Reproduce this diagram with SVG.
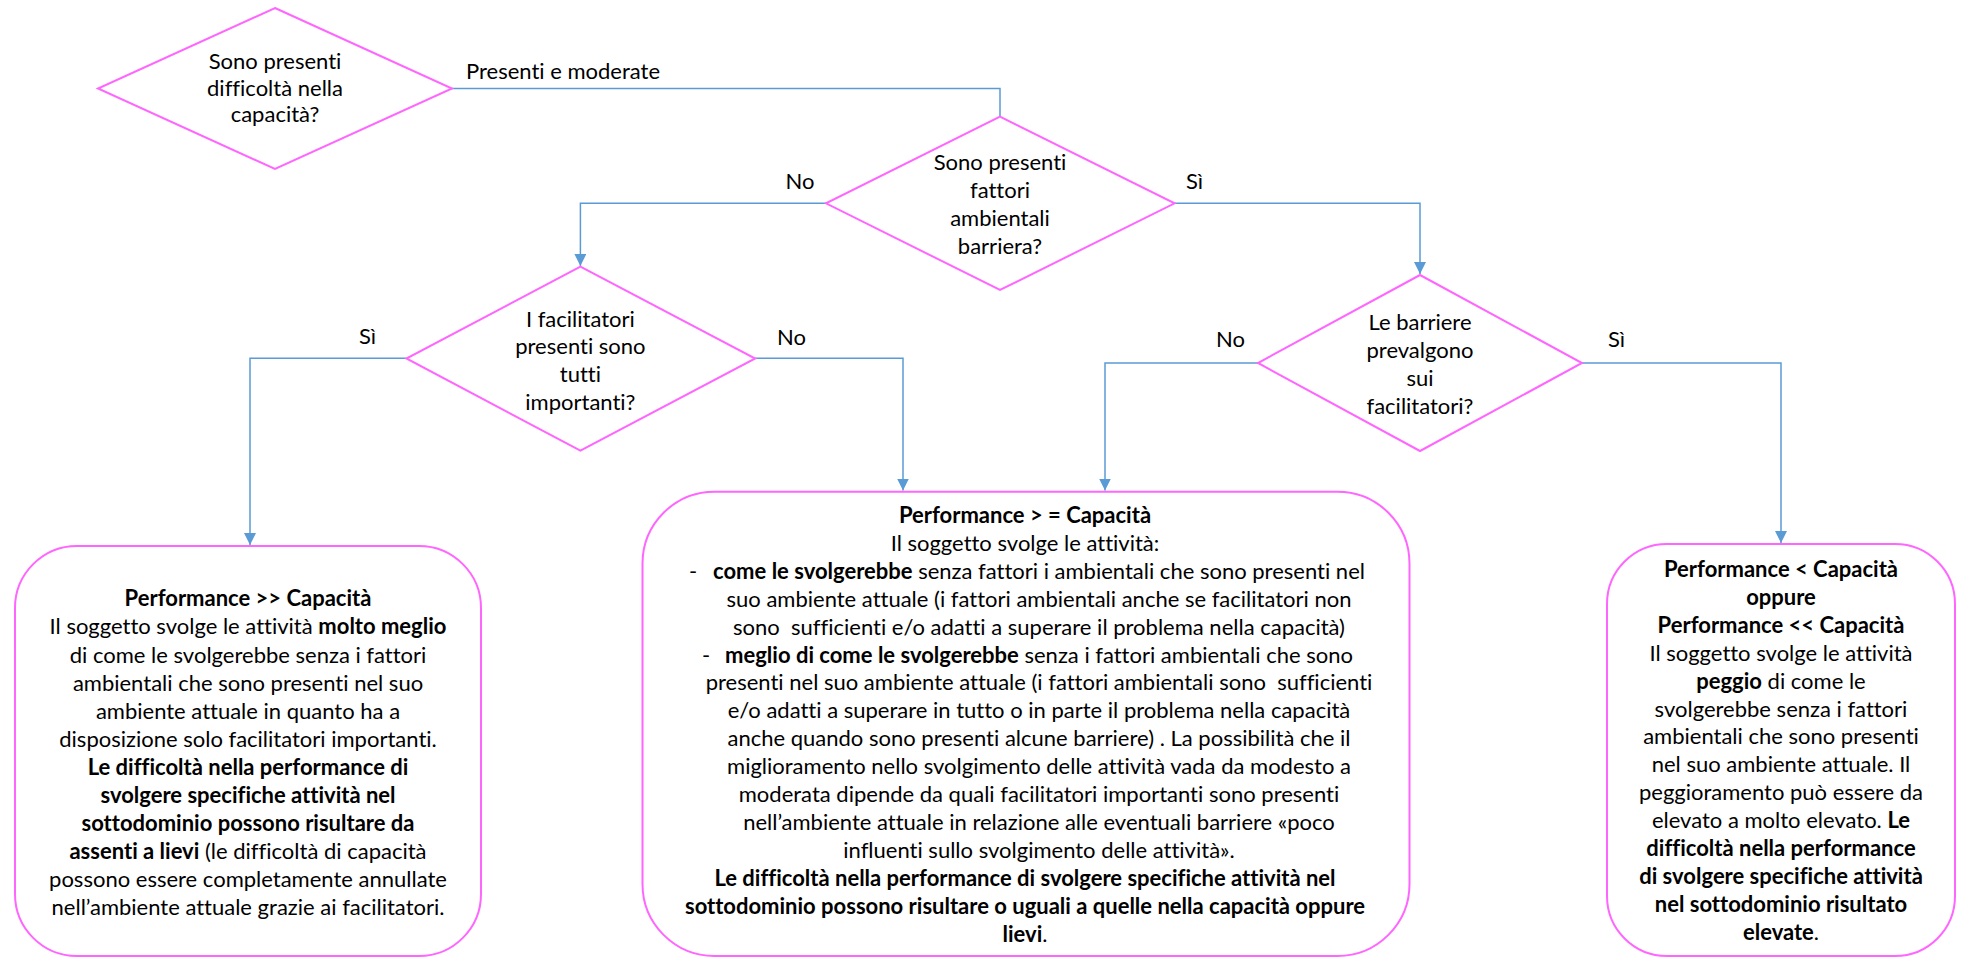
<svg xmlns="http://www.w3.org/2000/svg" width="1964" height="957" viewBox="0 0 1964 957">
<style>
.t { font-family: Lato, 'Liberation Sans', sans-serif; font-size: 22px; fill: #000; font-variant-ligatures: none; font-feature-settings: "liga" 0, "clig" 0; }
.m { text-anchor: middle; }
.b { font-weight: bold; }
.shape { fill: #fff; stroke: #FF66FF; stroke-width: 2; }
.conn { fill: none; stroke: #5B9BD5; stroke-width: 1.5; }
</style>
<defs>
<marker id="arr" markerUnits="userSpaceOnUse" markerWidth="13" markerHeight="13" refX="12" refY="6" orient="auto">
<path d="M0,0 L12,6 L0,12 z" fill="#5B9BD5"/>
</marker>
</defs>
<rect width="1964" height="957" fill="#fff"/>
<g id="connectors">
<polyline class="conn" points="452,88.5 1000,88.5 1000,116.7"/>
<polyline class="conn" points="826,203.3 580.4,203.3 580.4,266" marker-end="url(#arr)"/>
<polyline class="conn" points="1174.6,203.3 1420,203.3 1420,274" marker-end="url(#arr)"/>
<polyline class="conn" points="406.4,358.3 250,358.3 250,545" marker-end="url(#arr)"/>
<polyline class="conn" points="755.2,358.3 903,358.3 903,490.5" marker-end="url(#arr)"/>
<polyline class="conn" points="1258,363 1105,363 1105,490.5" marker-end="url(#arr)"/>
<polyline class="conn" points="1582,363 1781,363 1781,543" marker-end="url(#arr)"/>
<text class="t" x="466" y="79">Presenti e moderate</text>
<text class="t m" x="800" y="189">No</text>
<text class="t" x="1186" y="189">Sì</text>
<text class="t" x="359" y="344">Sì</text>
<text class="t" x="777" y="345">No</text>
<text class="t" x="1216" y="347">No</text>
<text class="t" x="1608" y="347">Sì</text>
</g>
<g id="d1">
<polygon class="shape" points="275,8 452,88.5 275,169 98,88.5"/>
<text class="t m" x="275" y="69">Sono presenti</text>
<text class="t m" x="275" y="95.5">difficoltà nella</text>
<text class="t m" x="275" y="122">capacità?</text>
</g>
<g id="d2">
<polygon class="shape" points="1000,116.7 1174.6,203.3 1000,290 826,203.3"/>
<text class="t m" x="1000" y="170">Sono presenti</text>
<text class="t m" x="1000" y="197.5">fattori</text>
<text class="t m" x="1000" y="225.5">ambientali</text>
<text class="t m" x="1000" y="253.5">barriera?</text>
</g>
<g id="d3">
<polygon class="shape" points="580.4,266.7 755.2,358.5 580.4,450.7 406.4,358.5"/>
<text class="t m" x="580.4" y="327">I facilitatori</text>
<text class="t m" x="580.4" y="354">presenti sono</text>
<text class="t m" x="580.4" y="382">tutti</text>
<text class="t m" x="580.4" y="410">importanti?</text>
</g>
<g id="d4">
<polygon class="shape" points="1420,275 1582,363 1420,451 1258,363"/>
<text class="t m" x="1420" y="330">Le barriere</text>
<text class="t m" x="1420" y="358">prevalgono</text>
<text class="t m" x="1420" y="385.5">sui</text>
<text class="t m" x="1420" y="414">facilitatori?</text>
</g>
<g id="box1">
<rect class="shape" x="15" y="546" width="466" height="410" rx="62" ry="62"/>
<text class="t m b" x="248" y="606.3">Performance &gt;&gt; Capacità</text>
<text class="t m" x="248" y="634.4">Il soggetto svolge le attività <tspan class="b">molto meglio</tspan></text>
<text class="t m" x="248" y="662.5">di come le svolgerebbe senza i fattori</text>
<text class="t m" x="248" y="690.6">ambientali che sono presenti nel suo</text>
<text class="t m" x="248" y="718.7">ambiente attuale in quanto ha a</text>
<text class="t m" x="248" y="746.8">disposizione solo facilitatori importanti.</text>
<text class="t m b" x="248" y="774.9">Le difficoltà nella performance di</text>
<text class="t m b" x="248" y="803">svolgere specifiche attività nel</text>
<text class="t m b" x="248" y="831.1">sottodominio possono risultare da</text>
<text class="t m" x="248" y="859.2"><tspan class="b">assenti a lievi</tspan> (le difficoltà di capacità</text>
<text class="t m" x="248" y="887.3">possono essere completamente annullate</text>
<text class="t m" x="248" y="915.4">nell’ambiente attuale grazie ai facilitatori.</text>
</g>
<g id="box2">
<rect class="shape" x="642.5" y="491.7" width="767" height="464.3" rx="72" ry="72"/>
<text class="t m b" x="1025" y="523">Performance &gt; = Capacità</text>
<text class="t m" x="1025" y="550.9">Il soggetto svolge le attività:</text>
<text class="t" x="689" y="578.8">-</text>
<text class="t m" x="1039" y="578.8"><tspan class="b">come le svolgerebbe</tspan> senza fattori i ambientali che sono presenti nel</text>
<text class="t m" x="1039" y="606.7">suo ambiente attuale (i fattori ambientali anche se facilitatori non</text>
<text class="t m" x="1039" y="634.6" xml:space="preserve">sono  sufficienti e/o adatti a superare il problema nella capacità)</text>
<text class="t" x="702" y="662.5">-</text>
<text class="t m" x="1039" y="662.5"><tspan class="b">meglio di come le svolgerebbe</tspan> senza i fattori ambientali che sono</text>
<text class="t m" x="1039" y="690.4" xml:space="preserve">presenti nel suo ambiente attuale (i fattori ambientali sono  sufficienti</text>
<text class="t m" x="1039" y="718.3">e/o adatti a superare in tutto o in parte il problema nella capacità</text>
<text class="t m" x="1039" y="746.2">anche quando sono presenti alcune barriere) . La possibilità che il</text>
<text class="t m" x="1039" y="774.1">miglioramento nello svolgimento delle attività vada da modesto a</text>
<text class="t m" x="1039" y="802">moderata dipende da quali facilitatori importanti sono presenti</text>
<text class="t m" x="1039" y="829.9">nell’ambiente attuale in relazione alle eventuali barriere «poco</text>
<text class="t m" x="1039" y="857.8">influenti sullo svolgimento delle attività».</text>
<text class="t m b" x="1025" y="885.7">Le difficoltà nella performance di svolgere specifiche attività nel</text>
<text class="t m b" x="1025" y="913.6">sottodominio possono risultare o uguali a quelle nella capacità oppure</text>
<text class="t m" x="1025" y="941.5"><tspan class="b">lievi</tspan>.</text>
</g>
<g id="box3">
<rect class="shape" x="1607" y="544" width="348" height="412" rx="60" ry="60"/>
<text class="t m b" x="1781" y="577">Performance &lt; Capacità</text>
<text class="t m b" x="1781" y="604.9">oppure</text>
<text class="t m b" x="1781" y="632.8">Performance &lt;&lt; Capacità</text>
<text class="t m" x="1781" y="660.7">Il soggetto svolge le attività</text>
<text class="t m" x="1781" y="688.6"><tspan class="b">peggio</tspan> di come le</text>
<text class="t m" x="1781" y="716.5">svolgerebbe senza i fattori</text>
<text class="t m" x="1781" y="744.4">ambientali che sono presenti</text>
<text class="t m" x="1781" y="772.3">nel suo ambiente attuale. Il</text>
<text class="t m" x="1781" y="800.2">peggioramento può essere da</text>
<text class="t m" x="1781" y="828.1">elevato a molto elevato. <tspan class="b">Le</tspan></text>
<text class="t m b" x="1781" y="856">difficoltà nella performance</text>
<text class="t m b" x="1781" y="883.9">di svolgere specifiche attività</text>
<text class="t m b" x="1781" y="911.8">nel sottodominio risultato</text>
<text class="t m" x="1781" y="939.7"><tspan class="b">elevate</tspan>.</text>
</g>
</svg>
